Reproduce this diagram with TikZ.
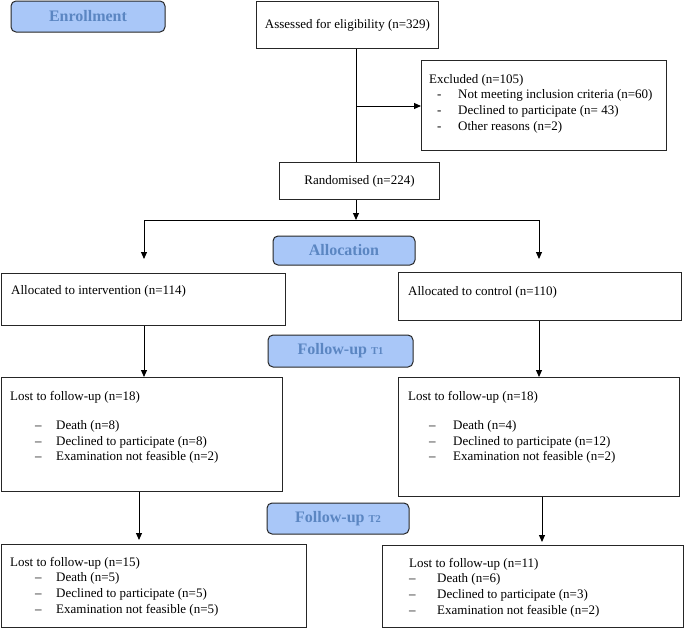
\documentclass[tikz,border=0pt]{standalone}
\usepackage{fontspec}
\setmainfont{Liberation Serif}
\usetikzlibrary{arrows.meta}

\definecolor{hdrfill}{HTML}{A9C7F8}
\definecolor{hdrtext}{HTML}{5B86C2}

\tikzset{
  box/.style={draw=black!85, line width=1pt, anchor=north west, inner sep=0pt},
  hdr/.style={draw=black!85, line width=1pt, rounded corners=5pt, fill=hdrfill,
    text=hdrtext, font=\fontsize{16}{18}\selectfont\bfseries, inner sep=0pt},
  txt/.style={anchor=north west, inner sep=0pt, align=left, font=\fontsize{13}{15.6}\selectfont},
  arr/.style={line width=1pt, -{Triangle[length=7pt,width=6pt]}},
  con/.style={line width=1pt}
}

\begin{document}
\begin{tikzpicture}[x=1pt,y=-1pt]
  \useasboundingbox (0,0) rectangle (685,629);

  % Headers
  \node[hdr, minimum width=154pt, minimum height=31pt] (enrol) at (88,16.5) {Enrollment};
  \node[hdr, minimum width=142pt, minimum height=29pt] (alloc) at (344,250.5) {Allocation};
  \node[hdr, minimum width=145pt, minimum height=32pt] (fupone) at (340.5,351)
    {Follow-up {\fontsize{10.5}{12}\selectfont T1}};
  \node[hdr, minimum width=142pt, minimum height=31pt] (fuptwo) at (338,518.5)
    {Follow-up {\fontsize{10.5}{12}\selectfont T2}};

  % Enrollment
  \node[box, minimum width=182pt, minimum height=47pt, font=\fontsize{13}{15.6}\selectfont]
    (assess) at (256,1) {Assessed for eligibility (n=329)};
  \node[box, minimum width=245pt, minimum height=90pt] (excl) at (421,60) {};
  \node[txt] (excltext) at (429,74) {Excluded (n=105)\\
    \hspace*{8pt}\makebox[21pt][l]{-}Not meeting inclusion criteria (n=60)\\
    \hspace*{8pt}\makebox[21pt][l]{-}Declined to participate (n= 43)\\
    \hspace*{8pt}\makebox[21pt][l]{-}Other reasons (n=2)};
  \node[box, minimum width=160pt, minimum height=37pt, font=\fontsize{13}{15.6}\selectfont]
    (rand) at (279,162) {Randomised (n=224)};

  % Allocation
  \node[box, minimum width=284pt, minimum height=52pt] (intv) at (1,273) {};
  \node[txt] (intvtext) at (11,285) {Allocated to intervention (n=114)};
  \node[box, minimum width=283pt, minimum height=48pt] (ctrl) at (398,272) {};
  \node[txt] (ctrltext) at (408,286) {Allocated to control (n=110)};

  % Follow-up T1
  \node[box, minimum width=281pt, minimum height=114pt] (lostA) at (1,377) {};
  \node[txt] (lostAtext) at (10,391) {Lost to follow-up (n=18)\\[13.5pt]
    \hspace*{25pt}\makebox[21pt][l]{--}Death (n=8)\\
    \hspace*{25pt}\makebox[21pt][l]{--}Declined to participate (n=8)\\
    \hspace*{25pt}\makebox[21pt][l]{--}Examination not feasible (n=2)};
  \node[box, minimum width=281pt, minimum height=119pt] (lostB) at (398,377) {};
  \node[txt] (lostBtext) at (408,391) {Lost to follow-up (n=18)\\[13.5pt]
    \hspace*{21pt}\makebox[24pt][l]{--}Death (n=4)\\
    \hspace*{21pt}\makebox[24pt][l]{--}Declined to participate (n=12)\\
    \hspace*{21pt}\makebox[24pt][l]{--}Examination not feasible (n=2)};

  % Follow-up T2
  \node[box, minimum width=305pt, minimum height=83pt] (lostC) at (1,544) {};
  \node[txt] (lostCtext) at (10,557) {Lost to follow-up (n=15)\\
    \hspace*{25pt}\makebox[21pt][l]{--}Death (n=5)\\
    \hspace*{25pt}\makebox[21pt][l]{--}Declined to participate (n=5)\\
    \hspace*{25pt}\makebox[21pt][l]{--}Examination not feasible (n=5)};
  \node[box, minimum width=301pt, minimum height=82pt] (lostD) at (382,545) {};
  \node[txt] (lostDtext) at (409,558) {Lost to follow-up (n=11)\\
    \makebox[28pt][l]{--}Death (n=6)\\
    \makebox[28pt][l]{--}Declined to participate (n=3)\\
    \makebox[28pt][l]{--}Examination not feasible (n=2)};

  % Connectors
  \coordinate (split) at (356,106);
  \coordinate (branch) at (356,220);
  \coordinate (tipL) at (144,259);
  \coordinate (tipR) at (539,259);
  \coordinate (downA) at (139,540);
  \coordinate (downB) at (542,542);
  \draw[con] (assess.south -| split) -- (rand.north -| split);
  \draw[arr] (split) -- (excl.west |- split);
  \draw[arr] (rand.south -| split) -- (branch);
  \draw[arr] (branch) -| (tipL);
  \draw[arr] (branch) -| (tipR);
  \draw[arr] (intv.south -| tipL) -- (lostA.north -| tipL);
  \draw[arr] (ctrl.south -| tipR) -- (lostB.north -| tipR);
  \draw[arr] (lostA.south -| downA) -- (downA);
  \draw[arr] (lostB.south -| downB) -- (downB);
\end{tikzpicture}
\end{document}
